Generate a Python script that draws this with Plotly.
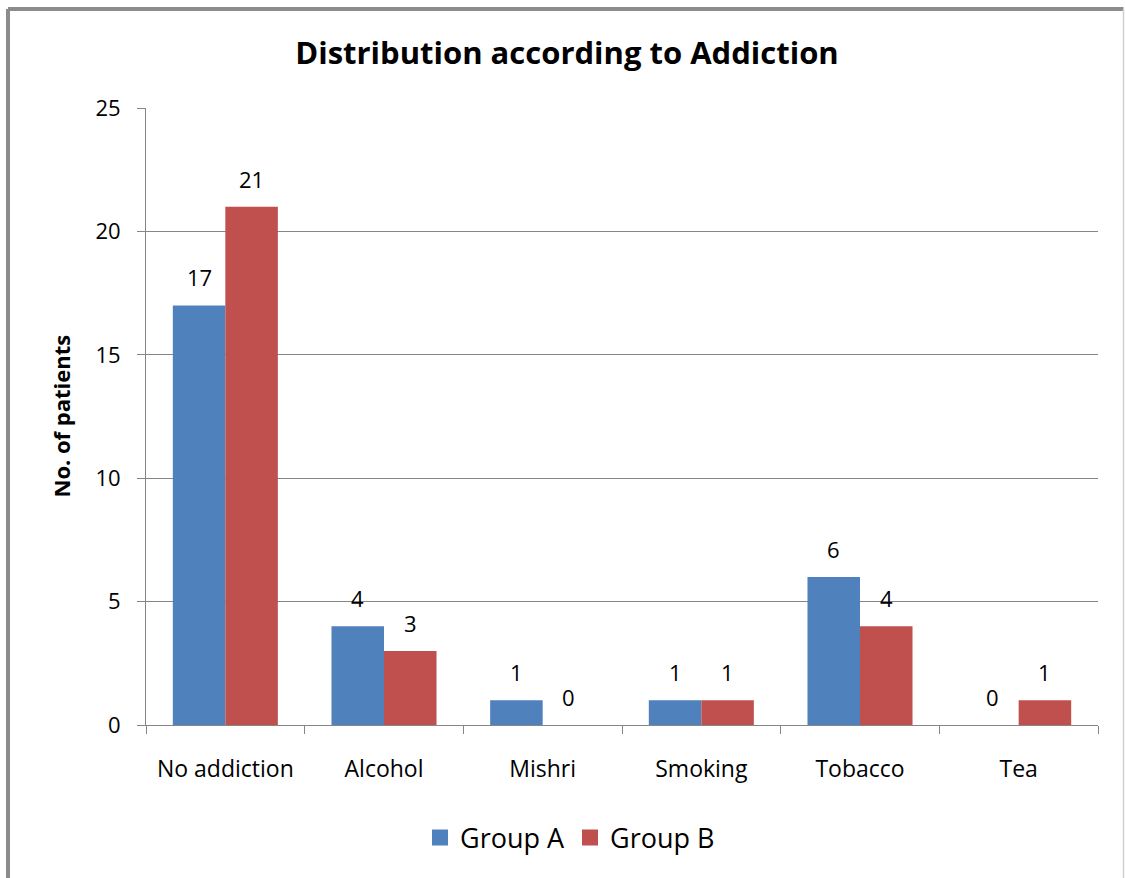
import plotly.graph_objects as go

categories = ["No addiction", "Alcohol", "Mishri", "Smoking", "Tobacco", "Tea"]
group_a = [17, 4, 1, 1, 6, 0]
group_b = [21, 3, 0, 1, 4, 1]
series_names = ["Group A", "Group B"]
y_ticks = [0, 5, 10, 15, 20, 25]

COL_A = "#4F81BD"
COL_B = "#C0504D"
FONT = "Open Sans, sans-serif"

W, H = 1125, 878
ML, MR, MT, MB = 146, 27, 108, 153
PW, PH = W - ML - MR, H - MT - MB

fig = go.Figure()
for name, vals, col in ((series_names[0], group_a, COL_A), (series_names[1], group_b, COL_B)):
    fig.add_bar(name=name, x=categories, y=vals, marker=dict(color=col, line=dict(width=0)),
                showlegend=False, legendgroup=name)
for name, col in ((series_names[0], COL_A), (series_names[1], COL_B)):
    fig.add_scatter(name=name, x=[None], y=[None], mode="markers", legendgroup=name,
                    marker=dict(symbol="square", size=18, color=col))

# data labels above bars
cat_px = PW / len(categories)
bar_px = cat_px * (1 - 0.338) / 2
for vals, sh in ((group_a, -bar_px / 2), (group_b, bar_px / 2)):
    for c, v in zip(categories, vals):
        fig.add_annotation(x=c, y=v, text=str(v), showarrow=False, xshift=sh, yshift=11,
                           yanchor="bottom", font=dict(size=22, color="black", family=FONT))

# y-axis title
fig.add_annotation(xref="paper", yref="paper", x=(60 - ML) / PW, y=0.5, text="<b>No. of patients</b>",
                   textangle=-90, showarrow=False, xanchor="center", yanchor="middle",
                   font=dict(size=22, color="black", family=FONT))

# outer border (left and top heavy, right thin)
bx0, bx1 = (8 - ML) / PW, (1123.5 - ML) / PW
by0, by1 = -(H + 10 - MT - PH) / PH, 1 + (MT - 9) / PH
fig.add_shape(type="line", xref="paper", yref="paper", x0=bx0, x1=bx0, y0=by0, y1=by1,
              line=dict(color="#8C8C8C", width=4), layer="below")
fig.add_shape(type="line", xref="paper", yref="paper", x0=bx0, x1=bx1, y0=by1, y1=by1,
              line=dict(color="#8C8C8C", width=4), layer="below")
fig.add_shape(type="line", xref="paper", yref="paper", x0=bx1, x1=bx1, y0=by0, y1=by1,
              line=dict(color="#D0D0D0", width=1.5), layer="below")

fig.update_layout(
    width=W, height=H, margin=dict(l=ML, r=MR, t=MT, b=MB),
    paper_bgcolor="white", plot_bgcolor="white",
    barmode="group", bargap=0.338, bargroupgap=0,
    font=dict(family=FONT, color="black", size=22),
    title=dict(text="<b>Distribution according to Addiction</b>", xref="container", x=567 / W, xanchor="center",
               yref="container", y=1 - 53 / H, yanchor="middle", font=dict(size=31, color="black", family=FONT)),
    showlegend=True,
    legend=dict(orientation="h", xref="paper", x=(570 - ML) / PW, xanchor="center", yref="paper", y=-(838 - MT - PH) / PH,
                yanchor="middle", font=dict(size=27, color="black", family=FONT), itemwidth=30, traceorder="normal",
                itemsizing="trace"),
    xaxis=dict(type="category", showline=True, linecolor="#868686", linewidth=1, ticks="outside", tickson="boundaries",
               ticklen=8, tickcolor="#868686", showgrid=False, tickfont=dict(size=23), ticklabelstandoff=23),
    yaxis=dict(range=[0, 25], tickvals=y_ticks, showline=True, linecolor="#868686", linewidth=1, ticks="outside",
               ticklen=8, tickcolor="#868686", showgrid=True, gridcolor="#868686", gridwidth=1, zeroline=False,
               tickfont=dict(size=22), ticklabelstandoff=12),
)

fig.write_html("out.html")
